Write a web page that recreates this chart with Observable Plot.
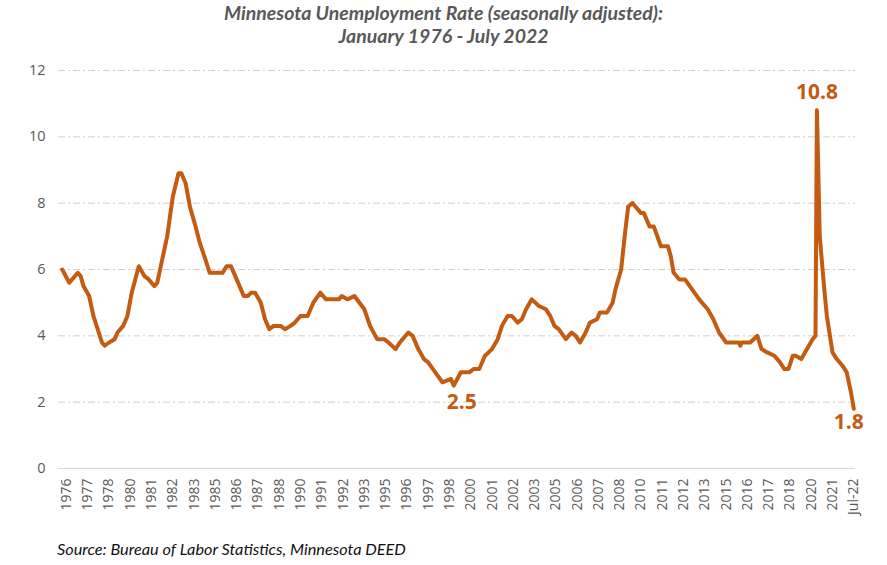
<!DOCTYPE html>
<html>
<head>
<meta charset="utf-8">
<script src="https://cdn.jsdelivr.net/npm/d3@7"></script>
<script src="https://cdn.jsdelivr.net/npm/@observablehq/plot@0.6"></script>
<style>
  html, body { margin: 0; padding: 0; background: #fff; }
  #wrap { position: relative; width: 887px; height: 565px; overflow: hidden; }
  #title { position: absolute; top: 1px; left: 0; width: 887px; text-align: center;
           font-family: Lato, "Open Sans", sans-serif; font-weight: bold; font-style: italic;
           font-size: 19.5px; line-height: 23px; color: #595959; }
  #chart { position: absolute; top: 56px; left: 0; }
  #source { position: absolute; top: 539px; left: 57px; font-family: Lato, "Open Sans", sans-serif;
            font-style: italic; font-size: 16.3px; color: #111; white-space: nowrap; }
</style>
</head>
<body>
<div id="wrap">
  <div id="title">Minnesota Unemployment Rate (seasonally adjusted):<br>January 1976 - July 2022</div>
  <div id="chart"></div>
  <div id="source">Source: Bureau of Labor Statistics, Minnesota DEED</div>
</div>
<script>
const dates = [
  "1976-01","1976-06","1976-12","1977-02","1977-04","1977-08","1977-11","1978-02","1978-05","1978-07",
  "1978-10","1979-02","1979-04","1979-08","1979-11","1980-02","1980-07","1980-11","1981-02","1981-06",
  "1981-08","1981-11","1982-03","1982-07","1982-11","1983-01","1983-04","1983-07","1983-11","1984-02",
  "1984-06","1984-09","1985-06","1985-09","1985-12","1986-03","1986-07","1986-09","1986-12","1987-02",
  "1987-05","1987-09","1987-12","1988-03","1988-06","1988-11","1989-02","1989-06","1989-09","1990-01",
  "1990-06","1990-10","1991-03","1991-07","1992-04","1992-06","1992-10","1993-03","1993-10","1994-02",
  "1994-07","1994-12","1995-03","1995-08","1995-11","1996-05","1996-08","1996-12","1997-04","1997-07",
  "1997-12","1998-05","1998-11","1999-01","1999-06","1999-12","2000-03","2000-07","2000-11","2001-04",
  "2001-08","2001-11","2002-03","2002-06","2002-10","2003-01","2003-04","2003-08","2004-01","2004-06",
  "2004-09","2004-12","2005-03","2005-08","2005-12","2006-03","2006-06","2006-10","2007-01","2007-06",
  "2007-08","2008-01","2008-05","2008-07","2008-11","2009-02","2009-04","2009-07","2009-09","2010-01",
  "2010-03","2010-07","2010-10","2011-03","2011-08","2011-10","2011-12","2012-04","2012-08","2013-01",
  "2013-06","2013-12","2014-04","2014-08","2015-01","2015-10","2015-11","2015-12","2016-06","2016-11",
  "2017-02","2017-06","2017-11","2018-03","2018-06","2018-09","2018-12","2019-02","2019-06","2019-10",
  "2020-02","2020-04","2020-05","2020-07","2020-10","2020-12","2021-04","2021-07","2021-11","2022-02",
  "2022-05","2022-07"
];
const rates = [
  6.0,5.6,5.9,5.8,5.5,5.2,4.6,4.2,3.8,3.7,
  3.8,3.9,4.1,4.3,4.6,5.3,6.1,5.8,5.7,5.5,
  5.6,6.2,7.0,8.2,8.9,8.9,8.6,7.9,7.3,6.8,
  6.3,5.9,5.9,6.1,6.1,5.8,5.4,5.2,5.2,5.3,
  5.3,5.0,4.5,4.2,4.3,4.3,4.2,4.3,4.4,4.6,
  4.6,5.0,5.3,5.1,5.1,5.2,5.1,5.2,4.8,4.3,
  3.9,3.9,3.8,3.6,3.8,4.1,4.0,3.6,3.3,3.2,
  2.9,2.6,2.7,2.5,2.9,2.9,3.0,3.0,3.4,3.6,
  3.9,4.3,4.6,4.6,4.4,4.5,4.8,5.1,4.9,4.8,
  4.6,4.3,4.2,3.9,4.1,4.0,3.8,4.1,4.4,4.5,
  4.7,4.7,5.0,5.4,6.0,7.2,7.9,8.0,7.9,7.7,
  7.7,7.3,7.3,6.7,6.7,6.4,5.9,5.7,5.7,5.4,
  5.1,4.8,4.5,4.1,3.8,3.8,3.7,3.8,3.8,4.0,
  3.6,3.5,3.4,3.2,3.0,3.0,3.4,3.4,3.3,3.6,
  3.9,4.0,10.8,7.0,5.5,4.6,3.5,3.3,3.1,2.9,
  2.3,1.8
];
const tickLabels = ["1976","1977","1978","1980","1981","1982","1983","1985","1986","1987","1988",
  "1990","1991","1992","1993","1995","1996","1997","1998","2000","2001","2002","2003","2005","2006",
  "2007","2008","2010","2011","2012","2013","2015","2016","2017","2018","2020","2021","Jul-22"];
const yTicks = [0, 2, 4, 6, 8, 10, 12];
const labelledDates = ["1999-01", "2020-05", "2022-07"];

const monthIndex = s => { const [y, m] = s.split("-").map(Number); return (y - 1976) * 12 + (m - 1); };
const data = dates.map((d, i) => ({m: monthIndex(d), v: rates[i]}));
const lastM = data[data.length - 1].m;
const tickPos = tickLabels.map((t, i) => i < tickLabels.length - 1 ? 3 + 15 * i : lastM);
const labelOf = new Map(tickPos.map((p, i) => [p, tickLabels[i]]));
const pointAt = s => data[dates.indexOf(s)];
const [lowPt, peakPt, endPt] = labelledDates.map(pointAt);

const orange = "#C55A11";
const lbl = {x: "m", y: "v", text: d => d.v.toFixed(1), fill: orange, fontWeight: "bold", fontSize: 21};
const chart = Plot.plot({
  width: 887,
  height: 474,
  marginTop: 14,
  marginBottom: 62,
  marginLeft: 58,
  marginRight: 32,
  style: {fontFamily: "'Open Sans', sans-serif", color: "#595959", background: "transparent"},
  x: {type: "linear", domain: [-2.6, 559.2], label: null},
  y: {domain: [0, 12], label: null},
  marks: [
    Plot.ruleY(yTicks.filter(d => d > 0), {stroke: "#cfcfcf", strokeWidth: 1, strokeDasharray: "7,3,2,3"}),
    Plot.ruleY([0], {stroke: "#d9d9d9", strokeWidth: 1}),
    Plot.axisY({ticks: yTicks, tickSize: 0, tickPadding: 13, fontSize: 14.5, label: null, tickFormat: d => String(d)}),
    Plot.axisX({ticks: tickPos, tickFormat: d => labelOf.get(d), tickRotate: -90, tickSize: 0, tickPadding: 10, fontSize: 14, label: null}),
    Plot.lineY(data, {x: "m", y: "v", stroke: orange, strokeWidth: 4, strokeLinejoin: "round", strokeLinecap: "round"}),
    Plot.text([peakPt], {...lbl, dy: -18}),
    Plot.text([lowPt], {...lbl, dx: 8, dy: 17}),
    Plot.text([endPt], {...lbl, dx: -5, dy: 13})
  ]
});
document.getElementById("chart").appendChild(chart);
</script>
</body>
</html>
